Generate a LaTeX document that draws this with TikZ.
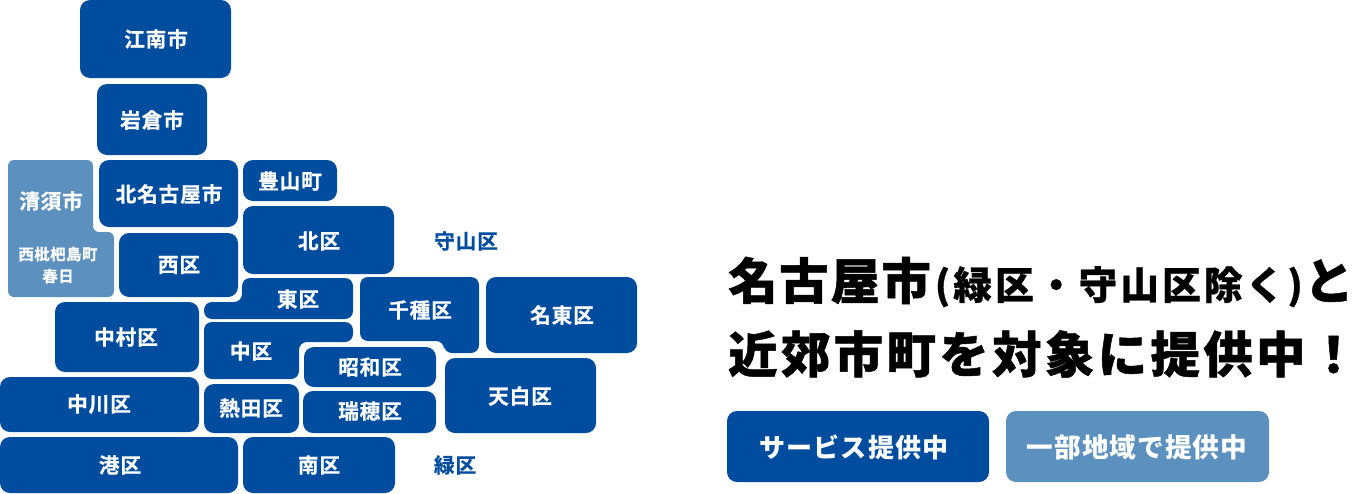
\documentclass[tikz,border=0pt]{standalone}
\usepackage{fontspec}
\setmainfont{Noto Sans CJK JP}
\newfontfamily\lab[LetterSpace=4,FakeBold=0.6]{Noto Sans CJK JP Bold}
\newfontfamily\sublab[LetterSpace=3,FakeBold=0.6]{Noto Sans CJK JP Bold}
\newfontfamily\btn[LetterSpace=4]{Noto Sans CJK JP Black}
\newfontfamily\head[LetterSpace=3.5,FakeBold=1]{Noto Sans CJK JP Black}
\newfontfamily\headb[LetterSpace=7,FakeBold=1]{Noto Sans CJK JP Black}
\newfontfamily\heads[LetterSpace=8,FakeBold=0.6]{Noto Sans CJK JP Black}
\definecolor{dk}{HTML}{004C9E}
\definecolor{lt}{HTML}{5C90BF}
\tikzset{x=0.75pt,y=-0.75pt,
 region/.style={fill=dk,rounded corners=7.5pt},
 lregion/.style={fill=lt,rounded corners=4.5pt},
 small/.style={fill=dk,rounded corners=6pt},
 tx/.style={inner sep=0pt,text=white,font=\lab\fontsize{15.5}{17}\selectfont},
 txb/.style={tx,text=dk},
 txs/.style={tx,font=\sublab\fontsize{11.6}{16.5}\selectfont,align=center},
 bt/.style={inner sep=0pt,text=white,font=\btn\fontsize{19.5}{21}\selectfont},
 bt2/.style={bt,font=\btn\fontsize{20}{21}\selectfont},
 hd/.style={inner sep=0pt,anchor=west,text=black},
}
\begin{document}
\begin{tikzpicture}
\useasboundingbox (0,0) rectangle (1357,493);
% regions
\fill[region] (80,0) rectangle (231,78);
\fill[region] (97,84) rectangle (207,155);
\fill[lregion] (8,160) -- (93,160) -- (93,232) -- (114,232) -- (114,297) -- (8,297) -- cycle;
\fill[region] (99,160) rectangle (238,227);
\fill[region] (243,160) rectangle (337,201);
\fill[region] (243,206) rectangle (394,274);
\fill[region] (119,233) rectangle (238,297);
\fill[small] (242,278) -- (353,278) -- (353,319) -- (204,319) -- (204,302) -- (242,302) -- cycle;
\fill[small] (204,322) -- (353,322) -- (353,342) -- (299,342) -- (299,379) -- (204,379) -- cycle;
\fill[small] (360,277) -- (479,277) -- (479,353) -- (444,353) -- (444,341) -- (360,341) -- cycle;
\fill[region] (486,277) rectangle (637,353);
\fill[region] (304,347) rectangle (436,387);
\fill[region] (303,391) rectangle (436,433);
\fill[region] (204,384) rectangle (299,433);
\fill[region] (445,358) rectangle (596,433);
\fill[region] (55,302) rectangle (199,372);
\fill[region] (0,377) rectangle (199,432);
\fill[region] (0,437) rectangle (238,493);
\fill[region] (243,437) rectangle (395,493);
\fill[region] (727,411) rectangle (989,482);
\fill[region,fill=lt] (1006,411) rectangle (1269,482);
% labels
\node[tx] (konan) at (156,39) {江南市};
\node[tx] (iwakura) at (152,120) {岩倉市};
\node[tx] (kiyosu) at (51,201) {清須市};
\node[txs] (nishibiwa) at (58,265) {西枇杷島町\\春日};
\node[tx] (kitanagoya) at (169,194) {北名古屋市};
\node[tx] (toyoyama) at (290,181) {豊山町};
\node[tx] (kita) at (319,241) {北区};
\node[tx] (nishi) at (179,265) {西区};
\node[tx] (higashi) at (298,299) {東区};
\node[tx] (nakamura) at (126,337) {中村区};
\node[tx] (naka) at (251,351) {中区};
\node[tx] (chikusa) at (420,310) {千種区};
\node[tx] (meito) at (562,315) {名東区};
\node[tx] (showa) at (370,367) {昭和区};
\node[tx] (mizuho) at (370,411) {瑞穂区};
\node[tx] (atsuta) at (251,408) {熱田区};
\node[tx] (tenpaku) at (520,396) {天白区};
\node[tx] (nakagawa) at (99,404) {中川区};
\node[tx] (minato) at (120,465) {港区};
\node[tx] (minami) at (319,465) {南区};
\node[txb] (moriyama) at (466,241) {守山区};
\node[txb] (midori) at (455,465) {緑区};
\node[bt] (b1) at (854,447) {サービス提供中};
\node[bt2] (b2) at (1137,447) {一部地域で提供中};
\node[hd] (h1) at (728,282) {\head\fontsize{37}{40}\selectfont 名古屋市\kern3pt\heads\fontsize{29}{34}\selectfont (緑区・守山区除く)\kern1pt\head\fontsize{37}{40}\selectfont と};
\node[hd] (h2) at (728,354) {\headb\fontsize{37}{40}\selectfont 近郊市町を対象に提供中！};
\end{tikzpicture}
\end{document}
